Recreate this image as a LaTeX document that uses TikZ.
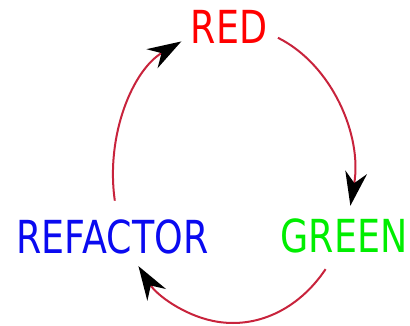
\documentclass[tikz,border=0pt]{standalone}
\usepackage{fontspec}
\newfontfamily\lblfont[FakeStretch=0.8]{DejaVu Sans}
\usetikzlibrary{arrows.meta,calc}
\definecolor{arcred}{RGB}{200,35,60}
\definecolor{lblred}{RGB}{255,0,0}
\definecolor{lblgreen}{RGB}{0,238,0}
\definecolor{lblblue}{RGB}{10,10,240}
\begin{document}
\begin{tikzpicture}[x=1pt,y=1pt,
  stage/.style={font=\lblfont\fontsize{45.5}{54}\selectfont, inner sep=0pt, anchor=base},
  cycle/.style={draw=arcred, line width=2pt,
    -{Stealth[black,length=34pt,width=22pt,inset=11pt]}}]
  \useasboundingbox (0,0) rectangle (410,-325);
  % centre of the elliptic cycle
  \coordinate (hub) at (233,-175);
  \node[stage, text=lblred]   (red)      at (229,-43)    {RED};
  \node[stage, text=lblgreen] (green)    at (344,-252)   {GREEN};
  \node[stage, text=lblblue]  (refactor) at (112.5,-253) {REFACTOR};
  % start points of the three arcs on the ellipse
  \coordinate (red-out)      at ($(hub)+(68:120pt and 148pt)$);
  \coordinate (green-out)    at ($(hub)+(-39.5:120pt and 148pt)$);
  \coordinate (refactor-out) at ($(hub)+(190:120pt and 148pt)$);
  \draw[cycle] (red-out) arc[start angle=68, end angle=-12, x radius=120pt, y radius=148pt];
  \draw[cycle] (green-out) arc[start angle=-39.5, end angle=-142, x radius=120pt, y radius=148pt];
  \draw[cycle] (refactor-out) arc[start angle=190, end angle=115.5, x radius=120pt, y radius=148pt];
\end{tikzpicture}
\end{document}
